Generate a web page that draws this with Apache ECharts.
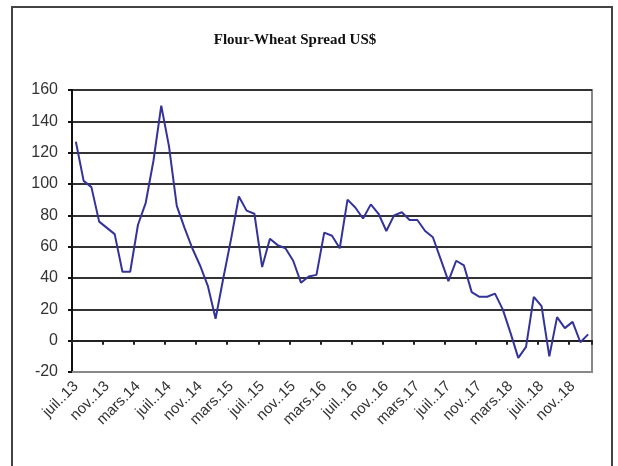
<!DOCTYPE html>
<html>
<head>
<meta charset="utf-8">
<script src="https://cdn.jsdelivr.net/npm/echarts@6/dist/echarts.min.js"></script>
<style>
  html, body { margin: 0; padding: 0; background: #fff; }
  #chart { width: 618px; height: 466px; }
</style>
</head>
<body>
<div id="chart"></div>
<script>
// mois en abrégé (format Excel mmm.yy)
var months = ['janv.', 'févr.', 'mars', 'avr.', 'mai', 'juin', 'juil.', 'août', 'sept.', 'oct.', 'nov.', 'déc.'];
var firstMonth = 6;   // juillet
var firstYear = 13;

// spread farine-blé, US$, juil. 2013 -> janv. 2019
var spread = [
    127, 102, 98, 76, 72, 68, 44, 44, 74, 88,
    115, 150, 124, 86, 72, 59, 48, 35, 14, 40,
    65, 92, 83, 81, 47, 65, 61, 59, 51, 37,
    41, 42, 69, 67, 59, 90, 85, 78, 87, 81,
    70, 80, 82, 77, 77, 70, 66, 52, 38, 51,
    48, 31, 28, 28, 30, 20, 5, -11, -4, 28,
    22, -10, 15, 8, 12, -1, 4
];

var yTicks = { min: -20, max: 160, step: 20 };

var categories = [];
for (var i = 0; i < spread.length; i++) {
    var m = (firstMonth + i) % 12;
    var y = firstYear + Math.floor((firstMonth + i) / 12);
    categories.push(months[m] + '.' + y);
}

var myChart = echarts.init(document.getElementById('chart'));
var option = {
    animation: false,
    title: {
        text: 'Flour-Wheat Spread US$',
        left: 290,
        textAlign: 'center',
        top: 28,
        textStyle: {
            fontFamily: 'Liberation Serif',
            fontWeight: 'bold',
            fontSize: 15,
            color: '#111'
        }
    },
    graphic: [{
        type: 'rect',
        shape: { x: 12, y: 7, width: 600, height: 470 },
        style: { fill: 'none', stroke: '#444', lineWidth: 2 },
        silent: true
    }],
    grid: {
        left: 72,
        right: 26,
        top: 90,
        bottom: 94,
        show: true,
        borderColor: '#888',
        borderWidth: 2
    },
    xAxis: [{
        type: 'category',
        data: categories,
        boundaryGap: true,
        position: 'bottom',
        axisLine: { onZero: false, lineStyle: { color: '#888', width: 2 } },
        axisTick: { show: false },
        axisLabel: {
            interval: 3,
            rotate: 45,
            margin: 12,
            fontFamily: 'Liberation Sans',
            fontSize: 15,
            color: '#333'
        }
    }, {
        type: 'category',
        data: categories,
        boundaryGap: true,
        position: 'bottom',
        axisLine: { onZero: true, lineStyle: { color: '#222', width: 2 } },
        axisTick: { show: true, interval: 3, length: 4, lineStyle: { color: '#222', width: 2 } },
        axisLabel: { show: false }
    }],
    yAxis: {
        type: 'value',
        min: yTicks.min,
        max: yTicks.max,
        interval: yTicks.step,
        axisLine: { show: true, lineStyle: { color: '#111', width: 2 } },
        axisTick: { show: true, length: 4, lineStyle: { color: '#111', width: 2 } },
        axisLabel: {
            margin: 14,
            fontFamily: 'Liberation Sans',
            fontSize: 16,
            color: '#333'
        },
        splitLine: { lineStyle: { color: '#333', width: 2 } }
    },
    series: [{
        name: 'Spread',
        type: 'line',
        xAxisIndex: 0,
        data: spread,
        symbol: 'none',
        lineStyle: { color: '#33339a', width: 2 }
    }]
};
myChart.setOption(option);
</script>
</body>
</html>
